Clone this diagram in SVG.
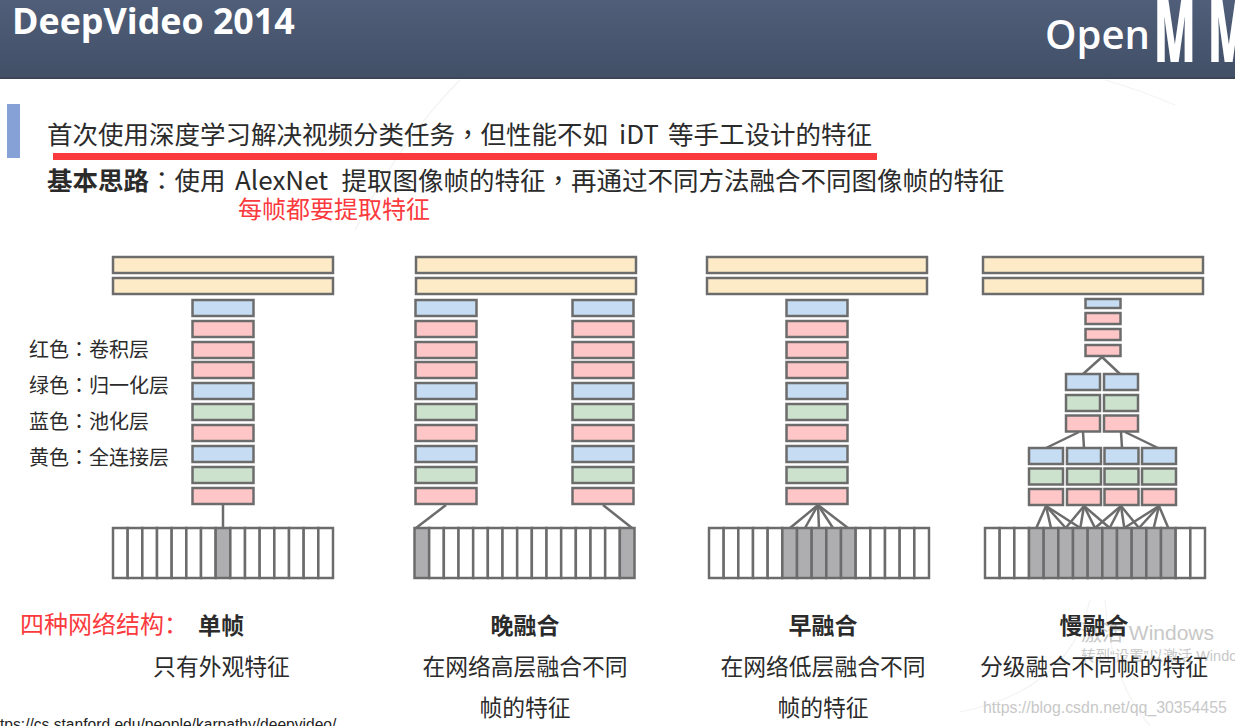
<svg xmlns="http://www.w3.org/2000/svg" width="1235" height="726" viewBox="0 0 1235 726">
<style>
text{font-family:"Noto Sans CJK SC","Noto Sans",sans-serif;fill:#2b2b2b}
.tc{font-family:"Noto Sans CJK TC","Noto Sans",sans-serif}
.b{fill:#c5dcf2}.p{fill:#fec6c6}.g{fill:#cde2cd}.y{fill:#fdebc8}.w{fill:#fff}.d{fill:#aeaeb0}
rect.b,rect.p,rect.g,rect.y,rect.w,rect.d{stroke:#6c6c6c;stroke-width:2.500}
.c line{stroke:#6c6c6c;stroke-width:2.500}
.h{font-size:25.5px}.l{font-size:20px}.t{font-size:23px;font-weight:700;text-anchor:middle}.s{font-size:22.8px;text-anchor:middle}
.r{fill:#fb3a3e}
.wm{fill:#c8c8c8;font-family:"Liberation Sans","Noto Sans CJK SC",sans-serif}
.hw{fill:#fff;font-family:"Open Sans","Noto Sans",sans-serif}
</style>
<defs>
<linearGradient id="hd" x1="0" y1="0" x2="0" y2="1"><stop offset="0" stop-color="#505e79"/><stop offset="1" stop-color="#414f67"/></linearGradient>
<filter id="soft" x="-2%" y="-2%" width="104%" height="104%"><feGaussianBlur stdDeviation="0.45"/></filter>
</defs>
<rect width="1235" height="726" fill="#fff"/>
<g id="background-curves" fill="none" stroke="#f3f3f3" stroke-width="1.2">
<path d="M460 80Q400 140 355 230"/>
<path d="M1105 600Q1110 680 1150 726"/>
<path d="M1090 600Q1070 690 960 712"/>
<path d="M1105 80Q1140 90 1175 105"/>
</g>
<g id="header">
<rect x="0" y="0" width="1235" height="78" fill="url(#hd)"/>
<rect x="0" y="77" width="1235" height="2" fill="#3b4658"/>
<text class="hw" x="12" y="34" font-size="35.800" font-weight="700">DeepVideo 2014</text>
<text class="hw" x="1045" y="49" font-size="40" font-weight="600">Open</text>
<text class="hw" transform="translate(1154 62) scale(.5 1)" x="0 108" y="0" font-size="86" font-weight="800">MM</text>
</g>
<g id="intro">
<rect x="7" y="104" width="13" height="54" fill="#85a1d6"/>
<text class="h" x="47" y="144">首次使用深度学习解决视频分类任务<tspan class="tc">，</tspan>但性能不如 <tspan x="619" font-size="26">iDT</tspan> <tspan x="668">等手工设计的特征</tspan></text>
<rect x="53" y="153" width="824" height="7" fill="#fb3a3e"/>
<text class="h" x="47" y="190"><tspan font-weight="700">基本思路</tspan><tspan class="tc">：</tspan>使用 <tspan x="235" font-size="26">AlexNet</tspan> <tspan x="341.500">提取图像帧的特征</tspan><tspan class="tc">，</tspan>再通过不同方法融合不同图像帧的特征</text>
<text class="r" x="238" y="218" font-size="24">每帧都要提取特征</text>
</g>
<g id="legend">
<text class="l" x="29" y="357">红色<tspan class="tc">：</tspan>卷积层</text>
<text class="l" x="29" y="393">绿色<tspan class="tc">：</tspan>归一化层</text>
<text class="l" x="29" y="429">蓝色<tspan class="tc">：</tspan>池化层</text>
<text class="l" x="29" y="465">黄色<tspan class="tc">：</tspan>全连接层</text>
</g>
<g filter="url(#soft)">
<g id="connectors" class="c">
<line x1="223" y1="504" x2="223" y2="528"/>
<line x1="446" y1="505" x2="416" y2="528"/><line x1="603" y1="505" x2="632" y2="528"/>
<line x1="818" y1="505" x2="790" y2="528"/><line x1="818" y1="505" x2="805" y2="528"/><line x1="818" y1="505" x2="819" y2="528"/><line x1="818" y1="505" x2="833" y2="528"/><line x1="818" y1="505" x2="848" y2="528"/>
<line x1="1102" y1="357" x2="1083" y2="374"/><line x1="1102" y1="357" x2="1120" y2="374"/>
<line x1="1079" y1="432" x2="1046" y2="448"/><line x1="1083" y1="432" x2="1084" y2="448"/><line x1="1121" y1="432" x2="1122" y2="448"/><line x1="1125" y1="432" x2="1158" y2="448"/>
<line x1="1046" y1="506" x2="1036.3" y2="528"/><line x1="1046" y1="506" x2="1051" y2="528"/><line x1="1046" y1="506" x2="1065.7" y2="528"/><line x1="1046" y1="506" x2="1080.3" y2="528"/>
<line x1="1084" y1="506" x2="1065.7" y2="528"/><line x1="1084" y1="506" x2="1080.3" y2="528"/><line x1="1084" y1="506" x2="1095" y2="528"/><line x1="1084" y1="506" x2="1109.7" y2="528"/>
<line x1="1121" y1="506" x2="1095" y2="528"/><line x1="1121" y1="506" x2="1109.7" y2="528"/><line x1="1121" y1="506" x2="1124.3" y2="528"/><line x1="1121" y1="506" x2="1139" y2="528"/>
<line x1="1159" y1="506" x2="1124.3" y2="528"/><line x1="1159" y1="506" x2="1139" y2="528"/><line x1="1159" y1="506" x2="1153.7" y2="528"/><line x1="1159" y1="506" x2="1168.3" y2="528"/>
</g>
<g id="single-frame">
<rect class="y" x="113" y="257" width="220" height="16"/><rect class="y" x="113" y="278" width="220" height="16"/>
<rect class="b" x="192.500" y="300" width="61" height="16"/><rect class="p" x="192.500" y="321" width="61" height="16"/><rect class="p" x="192.500" y="342" width="61" height="16"/><rect class="p" x="192.500" y="362" width="61" height="16"/><rect class="b" x="192.500" y="383" width="61" height="16"/><rect class="g" x="192.500" y="404" width="61" height="16"/><rect class="p" x="192.500" y="425" width="61" height="16"/><rect class="b" x="192.500" y="446" width="61" height="16"/><rect class="g" x="192.500" y="467" width="61" height="16"/><rect class="p" x="192.500" y="488" width="61" height="16"/>
<rect class="w" x="113" y="528" width="14.67" height="50"/><rect class="w" x="127.670" y="528" width="14.67" height="50"/><rect class="w" x="142.330" y="528" width="14.67" height="50"/><rect class="w" x="157" y="528" width="14.67" height="50"/><rect class="w" x="171.670" y="528" width="14.67" height="50"/><rect class="w" x="186.330" y="528" width="14.67" height="50"/><rect class="w" x="201" y="528" width="14.67" height="50"/><rect class="d" x="215.670" y="528" width="14.67" height="50"/><rect class="w" x="230.330" y="528" width="14.67" height="50"/><rect class="w" x="245" y="528" width="14.67" height="50"/><rect class="w" x="259.670" y="528" width="14.67" height="50"/><rect class="w" x="274.330" y="528" width="14.67" height="50"/><rect class="w" x="289" y="528" width="14.67" height="50"/><rect class="w" x="303.670" y="528" width="14.67" height="50"/><rect class="w" x="318.330" y="528" width="14.67" height="50"/>
</g>
<g id="late-fusion">
<rect class="y" x="416" y="257" width="220" height="16"/><rect class="y" x="416" y="278" width="220" height="16"/>
<rect class="b" x="415.500" y="300" width="61" height="16"/><rect class="p" x="415.500" y="321" width="61" height="16"/><rect class="p" x="415.500" y="342" width="61" height="16"/><rect class="p" x="415.500" y="362" width="61" height="16"/><rect class="b" x="415.500" y="383" width="61" height="16"/><rect class="g" x="415.500" y="404" width="61" height="16"/><rect class="p" x="415.500" y="425" width="61" height="16"/><rect class="b" x="415.500" y="446" width="61" height="16"/><rect class="g" x="415.500" y="467" width="61" height="16"/><rect class="p" x="415.500" y="488" width="61" height="16"/>
<rect class="b" x="572.500" y="300" width="61" height="16"/><rect class="p" x="572.500" y="321" width="61" height="16"/><rect class="p" x="572.500" y="342" width="61" height="16"/><rect class="p" x="572.500" y="362" width="61" height="16"/><rect class="b" x="572.500" y="383" width="61" height="16"/><rect class="g" x="572.500" y="404" width="61" height="16"/><rect class="p" x="572.500" y="425" width="61" height="16"/><rect class="b" x="572.500" y="446" width="61" height="16"/><rect class="g" x="572.500" y="467" width="61" height="16"/><rect class="p" x="572.500" y="488" width="61" height="16"/>
<rect class="d" x="414.500" y="528" width="14.67" height="50"/><rect class="w" x="429.170" y="528" width="14.67" height="50"/><rect class="w" x="443.830" y="528" width="14.67" height="50"/><rect class="w" x="458.500" y="528" width="14.67" height="50"/><rect class="w" x="473.170" y="528" width="14.67" height="50"/><rect class="w" x="487.830" y="528" width="14.67" height="50"/><rect class="w" x="502.500" y="528" width="14.67" height="50"/><rect class="w" x="517.170" y="528" width="14.67" height="50"/><rect class="w" x="531.830" y="528" width="14.67" height="50"/><rect class="w" x="546.500" y="528" width="14.67" height="50"/><rect class="w" x="561.170" y="528" width="14.67" height="50"/><rect class="w" x="575.830" y="528" width="14.67" height="50"/><rect class="w" x="590.500" y="528" width="14.67" height="50"/><rect class="w" x="605.170" y="528" width="14.67" height="50"/><rect class="d" x="619.830" y="528" width="14.67" height="50"/>
</g>
<g id="early-fusion">
<rect class="y" x="707" y="257" width="220" height="16"/><rect class="y" x="707" y="278" width="220" height="16"/>
<rect class="b" x="786.500" y="300" width="61" height="16"/><rect class="p" x="786.500" y="321" width="61" height="16"/><rect class="p" x="786.500" y="342" width="61" height="16"/><rect class="p" x="786.500" y="362" width="61" height="16"/><rect class="b" x="786.500" y="383" width="61" height="16"/><rect class="g" x="786.500" y="404" width="61" height="16"/><rect class="p" x="786.500" y="425" width="61" height="16"/><rect class="b" x="786.500" y="446" width="61" height="16"/><rect class="g" x="786.500" y="467" width="61" height="16"/><rect class="p" x="786.500" y="488" width="61" height="16"/>
<rect class="w" x="709" y="528" width="14.67" height="50"/><rect class="w" x="723.670" y="528" width="14.67" height="50"/><rect class="w" x="738.330" y="528" width="14.67" height="50"/><rect class="w" x="753" y="528" width="14.67" height="50"/><rect class="w" x="767.670" y="528" width="14.67" height="50"/><rect class="d" x="782.330" y="528" width="14.67" height="50"/><rect class="d" x="797" y="528" width="14.67" height="50"/><rect class="d" x="811.670" y="528" width="14.67" height="50"/><rect class="d" x="826.330" y="528" width="14.67" height="50"/><rect class="d" x="841" y="528" width="14.67" height="50"/><rect class="w" x="855.670" y="528" width="14.67" height="50"/><rect class="w" x="870.330" y="528" width="14.67" height="50"/><rect class="w" x="885" y="528" width="14.67" height="50"/><rect class="w" x="899.670" y="528" width="14.67" height="50"/><rect class="w" x="914.330" y="528" width="14.67" height="50"/>
</g>
<g id="slow-fusion">
<rect class="y" x="983" y="257" width="220" height="16"/><rect class="y" x="983" y="278" width="220" height="16"/>
<rect class="b" x="1085.500" y="299" width="35" height="9"/><rect class="p" x="1085.500" y="313" width="35" height="11"/><rect class="p" x="1085.500" y="329" width="35" height="11"/><rect class="p" x="1085.500" y="345" width="35" height="11"/>
<rect class="b" x="1066" y="374" width="34" height="16"/><rect class="g" x="1066" y="395" width="34" height="16"/><rect class="p" x="1066" y="415.500" width="34" height="16"/>
<rect class="b" x="1104" y="374" width="34" height="16"/><rect class="g" x="1104" y="395" width="34" height="16"/><rect class="p" x="1104" y="415.500" width="34" height="16"/>
<rect class="b" x="1029" y="448" width="34" height="16"/><rect class="g" x="1029" y="468.500" width="34" height="16"/><rect class="p" x="1029" y="489" width="34" height="16"/>
<rect class="b" x="1067" y="448" width="34" height="16"/><rect class="g" x="1067" y="468.500" width="34" height="16"/><rect class="p" x="1067" y="489" width="34" height="16"/>
<rect class="b" x="1104.500" y="448" width="34" height="16"/><rect class="g" x="1104.500" y="468.500" width="34" height="16"/><rect class="p" x="1104.500" y="489" width="34" height="16"/>
<rect class="b" x="1142" y="448" width="34" height="16"/><rect class="g" x="1142" y="468.500" width="34" height="16"/><rect class="p" x="1142" y="489" width="34" height="16"/>
<rect class="w" x="985" y="528" width="14.67" height="50"/><rect class="w" x="999.670" y="528" width="14.67" height="50"/><rect class="w" x="1014.330" y="528" width="14.67" height="50"/><rect class="d" x="1029" y="528" width="14.67" height="50"/><rect class="d" x="1043.670" y="528" width="14.67" height="50"/><rect class="d" x="1058.330" y="528" width="14.67" height="50"/><rect class="d" x="1073" y="528" width="14.67" height="50"/><rect class="d" x="1087.670" y="528" width="14.67" height="50"/><rect class="d" x="1102.330" y="528" width="14.67" height="50"/><rect class="d" x="1117" y="528" width="14.67" height="50"/><rect class="d" x="1131.670" y="528" width="14.67" height="50"/><rect class="d" x="1146.330" y="528" width="14.67" height="50"/><rect class="d" x="1161" y="528" width="14.67" height="50"/><rect class="w" x="1175.670" y="528" width="14.67" height="50"/><rect class="w" x="1190.330" y="528" width="14.67" height="50"/>
</g>
</g>
<g id="watermark">
<text class="wm" x="1081" y="640" font-size="21">激活 Windows</text>
<text class="wm" x="1081" y="661" font-size="14.500">转到“设置”以激活 Windows。</text>
<text class="wm" x="983" y="713" font-size="15.900">https://blog.csdn.net/qq_30354455</text>
</g>
<g id="captions">
<text class="r" x="20" y="633" font-size="24">四种网络结构：</text>
<text class="t" x="221" y="634">单帧</text>
<text class="s" x="221.500" y="675">只有外观特征</text>
<text class="t" x="525" y="634">晚融合</text>
<text class="s" x="525" y="675">在网络高层融合不同</text>
<text class="s" x="525" y="716">帧的特征</text>
<text class="t" x="823" y="634">早融合</text>
<text class="s" x="823" y="675">在网络低层融合不同</text>
<text class="s" x="823" y="716">帧的特征</text>
<text class="t" x="1094" y="634">慢融合</text>
<text class="s" x="1094" y="675">分级融合不同帧的特征</text>
<text x="-13" y="730" font-size="15.600" style="font-family:'Liberation Sans',sans-serif;fill:#222">https://cs.stanford.edu/people/karpathy/deepvideo/</text>
</g>
</svg>
